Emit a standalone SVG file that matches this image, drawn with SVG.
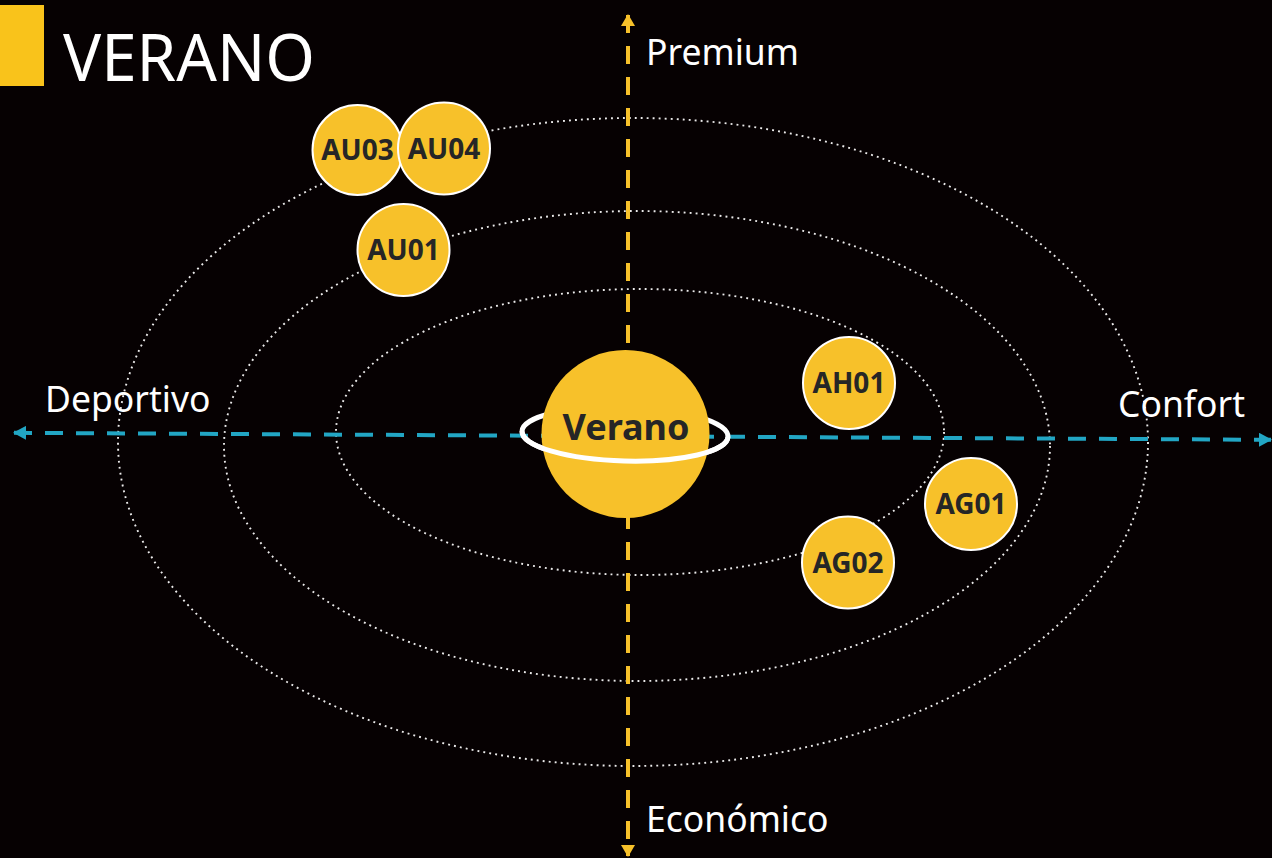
<svg xmlns="http://www.w3.org/2000/svg" width="1272" height="858" viewBox="0 0 1272 858">
  <defs>
    <marker id="arrY" markerWidth="12" markerHeight="14" refX="11" refY="7" orient="auto-start-reverse" markerUnits="userSpaceOnUse">
      <path d="M0,0 L12,7 L0,14 Z" fill="#f7c12a"/>
    </marker>
    <marker id="arrC" markerWidth="13" markerHeight="14" refX="12" refY="7" orient="auto-start-reverse" markerUnits="userSpaceOnUse">
      <path d="M0,0 L13,7 L0,14 Z" fill="#22a6c4"/>
    </marker>
  </defs>
  <style>
    .orbit { fill: none; stroke: #ffffff; stroke-width: 1.9; stroke-dasharray: 1.9 4.1; opacity: 0.92; }
    .axisY { stroke: #f7c12a; stroke-width: 4; stroke-dasharray: 18 13; fill: none; }
    .axisX { stroke: #22a6c4; stroke-width: 4; stroke-dasharray: 18 13; fill: none; }
    .lbl { font-family: "Noto Sans", "Liberation Sans", sans-serif; font-size: 35.5px; fill: #ffffff; }
    .planet { fill: #f7c12a; stroke: #ffffff; stroke-width: 2; }
    .ptxt { font-family: "Noto Sans", "Liberation Sans", sans-serif; font-weight: bold; font-size: 28px; fill: #262626; text-anchor: middle; }
  </style>
  <rect x="0" y="0" width="1272" height="858" fill="#060102"/>

  <g id="title">
    <rect x="0" y="5" width="44" height="81" fill="#f9c31b"/>
    <text x="63" y="81" font-family="'Noto Sans', 'Liberation Sans', sans-serif" font-size="65" fill="#ffffff" textLength="252" lengthAdjust="spacingAndGlyphs">VERANO</text>
  </g>

  <g id="orbits">
    <ellipse class="orbit" cx="633" cy="442" rx="515" ry="324"/>
    <ellipse class="orbit" cx="637" cy="446" rx="413" ry="235"/>
    <ellipse class="orbit" cx="640" cy="432" rx="304" ry="143"/>
  </g>

  <g id="connectors">
    <line class="axisY" x1="628" y1="15" x2="628" y2="856" marker-start="url(#arrY)" marker-end="url(#arrY)"/>
    <line class="axisX" x1="14" y1="432.8" x2="1271" y2="439.8" marker-start="url(#arrC)" marker-end="url(#arrC)"/>
  </g>

  <g id="axis-labels">
    <text class="lbl" x="646" y="65">Premium</text>
    <text class="lbl" x="646" y="832">Económico</text>
    <text class="lbl" x="45" y="412">Deportivo</text>
    <text class="lbl" x="1118" y="417">Confort</text>
  </g>

  <g id="sun">
    <ellipse cx="625" cy="434" rx="103" ry="27" fill="none" stroke="#ffffff" stroke-width="5" transform="rotate(1.5 625 434)"/>
    <circle cx="625.5" cy="434" r="84" fill="#f7c12a"/>
    <path d="M522,434 A103,27 0 0 0 728,434" fill="none" stroke="#ffffff" stroke-width="5" transform="rotate(1.5 625 434)"/>
    <text x="626" y="440" font-family="'Noto Sans', 'Liberation Sans', sans-serif" font-weight="bold" font-size="36" fill="#262626" text-anchor="middle">Verano</text>
  </g>

  <g id="AU03">
    <circle class="planet" cx="357.5" cy="150" r="45"/>
    <text class="ptxt" x="357.5" y="160">AU03</text>
  </g>
  <g id="AU04">
    <circle class="planet" cx="444" cy="148.5" r="46"/>
    <text class="ptxt" x="444" y="158.5">AU04</text>
  </g>
  <g id="AU01">
    <circle class="planet" cx="403.5" cy="250" r="46"/>
    <text class="ptxt" x="403.5" y="260">AU01</text>
  </g>
  <g id="AH01">
    <circle class="planet" cx="849" cy="383" r="46"/>
    <text class="ptxt" x="849" y="393">AH01</text>
  </g>
  <g id="AG01">
    <circle class="planet" cx="971" cy="504" r="46"/>
    <text class="ptxt" x="971" y="514">AG01</text>
  </g>
  <g id="AG02">
    <circle class="planet" cx="848" cy="562.5" r="46"/>
    <text class="ptxt" x="848" y="572.5">AG02</text>
  </g>
</svg>
